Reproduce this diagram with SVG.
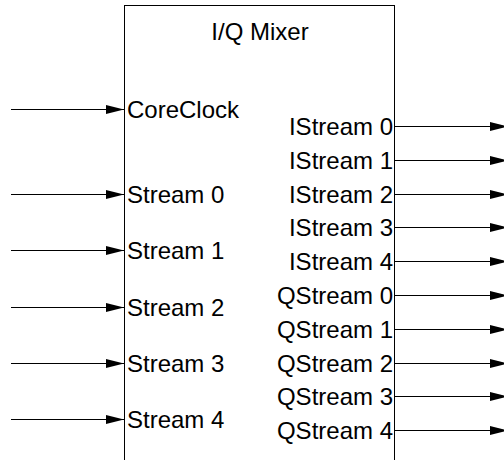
<svg xmlns="http://www.w3.org/2000/svg" width="504" height="460" viewBox="0 0 504 460">
  <defs>
    <marker id="arrow" viewBox="0 0 18 9" refX="18" refY="4.5" markerWidth="18" markerHeight="9" markerUnits="userSpaceOnUse" orient="auto">
      <path d="M0,0 L18,4.5 L0,9 Z" fill="#000"/>
    </marker>
    <style>
      .box { fill: #fff; stroke: #000; stroke-width: 1; }
      .wire { stroke: #000; stroke-width: 1; fill: none; marker-end: url(#arrow); }
      text { font-family: "Liberation Sans", Arial, sans-serif; font-size: 24px; fill: #000; }
      .in { text-anchor: start; }
      .out { text-anchor: end; }
      .title { text-anchor: middle; }
    </style>
  </defs>
  <rect width="504" height="460" fill="#fff"/>

  <!-- mixer block (continues below the bottom edge) -->
  <g id="iq-mixer">
    <rect class="box" x="124.5" y="5.5" width="270" height="470"/>
    <text class="title" x="260" y="39.5">I/Q Mixer</text>
    <text class="in" x="127" y="117.5">CoreClock</text>
    <text class="in" x="127" y="202.5">Stream 0</text>
    <text class="in" x="127" y="259">Stream 1</text>
    <text class="in" x="127" y="315.5">Stream 2</text>
    <text class="in" x="127" y="371.5">Stream 3</text>
    <text class="in" x="127" y="428">Stream 4</text>
    <text class="out" x="393" y="134.5">IStream 0</text>
    <text class="out" x="393" y="168.5">IStream 1</text>
    <text class="out" x="393" y="202.5">IStream 2</text>
    <text class="out" x="393" y="236">IStream 3</text>
    <text class="out" x="393" y="270">IStream 4</text>
    <text class="out" x="393" y="303.5">QStream 0</text>
    <text class="out" x="393" y="337.5">QStream 1</text>
    <text class="out" x="393" y="371.5">QStream 2</text>
    <text class="out" x="393" y="405">QStream 3</text>
    <text class="out" x="393" y="439">QStream 4</text>
  </g>

  <g id="connectors">
    <!-- inputs -->
    <line class="wire" x1="11" y1="109.5" x2="124" y2="109.5"/>
    <line class="wire" x1="11" y1="194.5" x2="124" y2="194.5"/>
    <line class="wire" x1="11" y1="250.5" x2="124" y2="250.5"/>
    <line class="wire" x1="11" y1="307.5" x2="124" y2="307.5"/>
    <line class="wire" x1="11" y1="363.5" x2="124" y2="363.5"/>
    <line class="wire" x1="11" y1="419.5" x2="124" y2="419.5"/>
    <!-- outputs -->
    <line class="wire" x1="395" y1="126.5" x2="508" y2="126.5"/>
    <line class="wire" x1="395" y1="160.5" x2="508" y2="160.5"/>
    <line class="wire" x1="395" y1="194.5" x2="508" y2="194.5"/>
    <line class="wire" x1="395" y1="227.5" x2="508" y2="227.5"/>
    <line class="wire" x1="395" y1="261.5" x2="508" y2="261.5"/>
    <line class="wire" x1="395" y1="295.5" x2="508" y2="295.5"/>
    <line class="wire" x1="395" y1="329.5" x2="508" y2="329.5"/>
    <line class="wire" x1="395" y1="363.5" x2="508" y2="363.5"/>
    <line class="wire" x1="395" y1="396.5" x2="508" y2="396.5"/>
    <line class="wire" x1="395" y1="430.5" x2="508" y2="430.5"/>
  </g>
</svg>
